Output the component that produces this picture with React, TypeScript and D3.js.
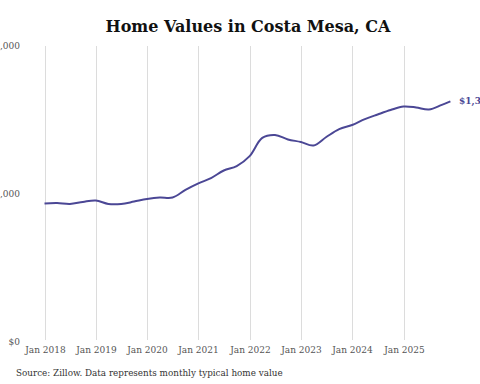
import React from 'react';
import * as d3 from 'd3';

// quarterly readings of the zillow typical home value
const months = [
  '2018-01', '2018-04', '2018-07', '2018-10',
  '2019-01', '2019-04', '2019-07', '2019-10',
  '2020-01', '2020-04', '2020-07', '2020-10',
  '2021-01', '2021-04', '2021-07', '2021-10',
  '2022-01', '2022-04', '2022-07', '2022-10',
  '2023-01', '2023-04', '2023-07', '2023-10',
  '2024-01', '2024-04', '2024-07', '2024-10',
  '2025-01', '2025-04', '2025-07', '2025-10', '2025-12',
];
const homeValues = [
  748600, 751000, 746000, 757000,
  765000, 746000, 746000, 759000,
  773000, 781000, 781000, 822000,
  857000, 886000, 927000, 951000,
  1005000, 1103000, 1119000, 1095000,
  1081000, 1062000, 1108000, 1151000,
  1173000, 1205000, 1230000, 1254000,
  1273000, 1268000, 1257000, 1282000, 1301000,
];
const yTicks = [0, 800000, 1600000];
const xTickYears = [2018, 2019, 2020, 2021, 2022, 2023, 2024, 2025];

const title = 'Home Values in Costa Mesa, CA';
const source = 'Source: Zillow. Data represents monthly typical home value';

const W = 480;
const H = 384;
const lineColor = '#4b4795';
const font = '"DejaVu Serif", serif';

export default function App() {
  const parse = d3.timeParse('%Y-%m');
  const data = months.map((m, i) => ({ date: parse(m) as Date, value: homeValues[i] }));

  const x = d3
    .scaleTime()
    .domain([new Date(2018, 0, 1), new Date(2025, 0, 1)])
    .range([44.5, 403.5]);
  const y = d3.scaleLinear().domain([0, 1600000]).range([342, 46]);

  const line = d3
    .line<{ date: Date; value: number }>()
    .x((d) => x(d.date))
    .y((d) => y(d.value))
    .curve(d3.curveCatmullRom.alpha(0.5));

  const fmt = d3.format('$,.0f');
  const last = data[data.length - 1];

  return (
    <div style={{ position: 'absolute', left: 0, top: 0 }}>
      <svg width={W} height={H} style={{ display: 'block', background: '#fff' }}>
        <text
          x={248}
          y={32}
          textAnchor="middle"
          fontFamily={font}
          fontWeight="bold"
          fontSize={16}
          fill="#111"
        >
          {title}
        </text>

        {/* vertical gridlines at each january */}
        {xTickYears.map((yr) => {
          const px = Math.round(x(new Date(yr, 0, 1))) + 0.5;
          return (
            <g key={yr}>
              <line x1={px} x2={px} y1={y(1600000)} y2={y(0) - 2} stroke="#dcdcdc" strokeWidth={1} />
              <text
                x={px}
                y={353}
                textAnchor="middle"
                fontFamily={font}
                fontSize={9}
                fill="#555"
              >
                {'Jan ' + yr}
              </text>
            </g>
          );
        })}

        {yTicks.map((t) => (
          <text
            key={t}
            x={20}
            y={y(t) + 3}
            textAnchor="end"
            fontFamily={font}
            fontSize={9}
            fill="#555"
          >
            {fmt(t)}
          </text>
        ))}

        <path d={line(data) || ''} fill="none" stroke={lineColor} strokeWidth={2} />

        <text
          x={459}
          y={y(last.value) + 3}
          fontFamily={font}
          fontWeight="bold"
          fontSize={9}
          fill={lineColor}
        >
          {fmt(last.value)}
        </text>

        <text x={16} y={376} fontFamily={font} fontSize={8.8} fill="#333">
          {source}
        </text>
      </svg>
    </div>
  );
}
